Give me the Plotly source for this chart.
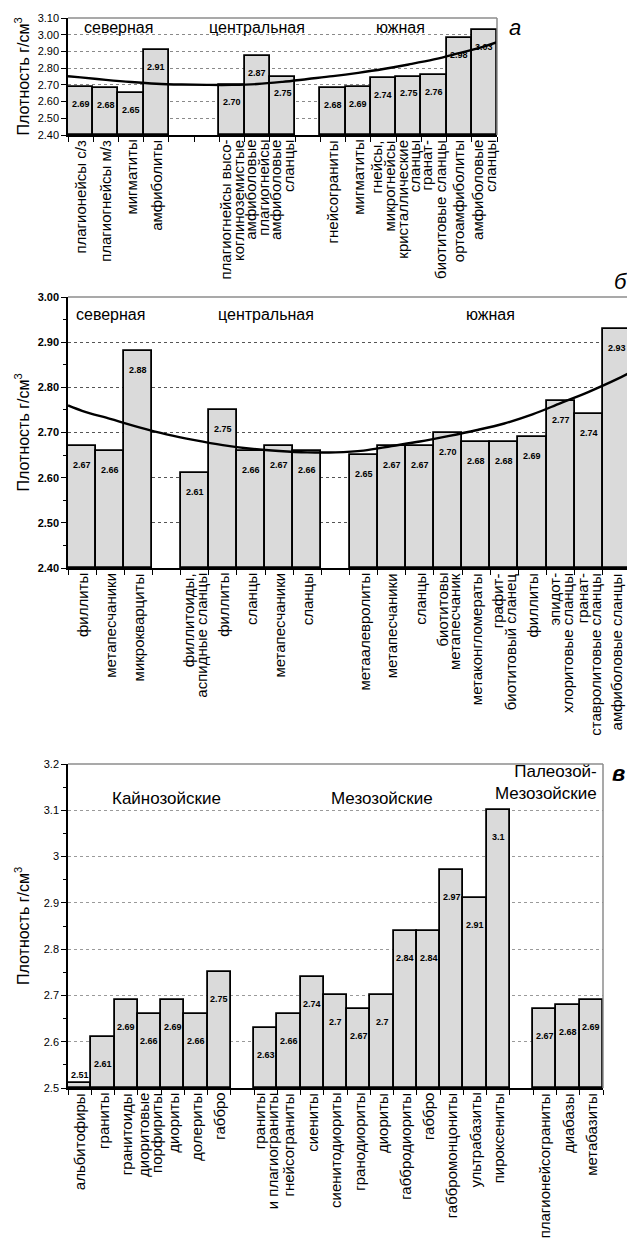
import plotly.graph_objects as go

FONT = "Liberation Sans, Arial, sans-serif"

# ---------------- Panel а ----------------
a_regions = ["северная", "центральная", "южная"]
a_labels = [
    ["плагионейсы с/з", "плагиогнейсы м/з", "мигматиты", "амфиболиты"],
    ["плагиогнейсы высо-<br>коглиноземистые", "амфиболовые<br>плагиогнейсы", "амфиболовые<br>сланцы"],
    ["гнейсограниты", "мигматиты", "гнейсы,<br>микрогнейсы", "кристаллические<br>сланцы",
     "гранат-<br>биотитовые сланцы", "ортоамфиболиты", "амфиболовые<br>сланцы"],
]
a_values = [
    [2.69, 2.68, 2.65, 2.91],
    [2.70, 2.87, 2.75],
    [2.68, 2.69, 2.74, 2.75, 2.76, 2.98, 3.03],
]
a_gaps = [2, 1]
a_trend = [2.752, 2.745, 2.73, 2.717, 2.707, 2.702, 2.70, 2.70, 2.705, 2.718, 2.735,
           2.752, 2.772, 2.795, 2.822, 2.852, 2.89, 2.93, 2.955]
a_yrange = [2.40, 3.10]

# ---------------- Panel б ----------------
b_regions = ["северная", "центральная", "южная"]
b_labels = [
    ["филлиты", "метапесчаники", "микрокварциты"],
    ["филлитоиды,<br>аспидные сланцы", "филлиты", "сланцы", "метапесчаники", "сланцы"],
    ["метаалевролиты", "метапесчаники", "сланцы", "биотитовы<br>метапесчаник", "метаконгломераты",
     "графит-<br>биотитовый сланец", "филлиты", "эпидот-<br>хлоритовые сланцы",
     "гранат-<br>ставролитовые сланцы", "амфиболовые сланцы"],
]
b_values = [
    [2.67, 2.66, 2.88],
    [2.61, 2.75, 2.66, 2.67, 2.66],
    [2.65, 2.67, 2.67, 2.70, 2.68, 2.68, 2.69, 2.77, 2.74, 2.93],
]
b_gaps = [1, 1]
b_trend = [2.76, 2.748, 2.73, 2.712, 2.696, 2.683, 2.672, 2.664, 2.659, 2.656, 2.656,
           2.66, 2.67, 2.68, 2.692, 2.705, 2.72, 2.74, 2.765, 2.79, 2.818, 2.834]
b_yrange = [2.40, 3.00]

# ---------------- Panel в ----------------
c_regions = ["Кайнозойские", "Мезозойские", "Палеозой-<br>Мезозойские"]
c_labels = [
    ["альбитофиры", "граниты", "гранитоиды", "диоритовые<br>порфириты", "диориты", "долериты", "габбро"],
    ["граниты<br>и плагиограниты", "гнейсограниты", "сиениты", "сиенитодиориты", "гранодиориты",
     "диориты", "габбродиориты", "габбро", "габбромонцониты", "ультрабазиты", "пироксениты"],
    ["плагионейсограниты", "диабазы", "метабазиты"],
]
c_values = [
    [2.51, 2.61, 2.69, 2.66, 2.69, 2.66, 2.75],
    [2.63, 2.66, 2.74, 2.70, 2.67, 2.70, 2.84, 2.84, 2.97, 2.91, 3.10],
    [2.67, 2.68, 2.69],
]
c_gaps = [1, 1]
c_yrange = [2.50, 3.20]

# page body adds an 8px margin: lay the figure out 8px up/left of target pixels
OFF = 8
W, H = 635 - OFF, 1247 - OFF
BAR_FILL = "#dadada"
XLAB_SIZE = 15
XLAB_PITCH = 13


def fx(px):
    return (px - OFF) / W


def fy(py):
    return 1 - (py - OFF) / H


panels = [
    dict(sfx="", labels=a_labels, values=a_values, gaps=a_gaps, trend=a_trend, yr=a_yrange,
         regions=a_regions, px=(68, 497), py=(18, 135), fmt=".2f", bold=False,
         grid="#8a8a8a", lab_off=10, reg_y=0.923, reg_shift=[0, 0, -8], minor=False,
         letter="а", letter_xy=(515, 27)),
    dict(sfx="2", labels=b_labels, values=b_values, gaps=b_gaps, trend=b_trend, yr=b_yrange,
         regions=b_regions, px=(68, 631), py=(297, 568), fmt=".2f", bold=True,
         grid="#555555", lab_off=12, reg_y=0.934, reg_shift=[0, 15, 0], minor=True,
         letter="б", letter_xy=(621, 282)),
    dict(sfx="3", labels=c_labels, values=c_values, gaps=c_gaps, trend=None, yr=c_yrange,
         regions=c_regions, px=(68, 603), py=(764, 1088), fmt="", bold=False,
         grid="#9a9a9a", lab_off=20, reg_y=0.893, reg_shift=[17, 0, 0], minor=True,
         letter="в", letter_xy=(618, 773)),
]

fig = go.Figure()
annotations = []
shapes = []
layout = {}

for p in panels:
    sfx = p["sfx"]
    xa, ya = "x" + sfx, "y" + sfx
    xs_all, vals_all, labs_all, centers = [], [], [], []
    pos = 0
    for gi, vals in enumerate(p["values"]):
        xs = list(range(pos, pos + len(vals)))
        xs_all += xs
        vals_all += vals
        labs_all += p["labels"][gi]
        centers.append((xs[0] + xs[-1]) / 2)
        pos += len(vals)
        if gi < len(p["gaps"]):
            pos += p["gaps"][gi]
    N = pos
    y0 = p["yr"][0]

    fig.add_trace(go.Bar(
        x=xs_all, y=[v - y0 for v in vals_all], base=y0, width=1.0, xaxis=xa, yaxis=ya,
        marker=dict(color=BAR_FILL, line=dict(color="black", width=1.8)),
        showlegend=False, hoverinfo="skip",
    ))

    if p["trend"] is not None:
        tx = [-0.5] + list(range(N)) + [N - 0.5]
        fig.add_trace(go.Scatter(
            x=tx, y=p["trend"], mode="lines", line=dict(color="black", width=2.4, shape="spline"),
            xaxis=xa, yaxis=ya, showlegend=False, hoverinfo="skip",
        ))

    # data labels
    for x, v in zip(xs_all, vals_all):
        txt = f"{v:.2f}" if p["fmt"] else f"{v:g}"
        above = (v - y0) < 0.04
        annotations.append(dict(
            x=x, y=v, xref=xa, yref=ya, text=txt, showarrow=False,
            yanchor="bottom" if above else "top",
            yshift=1 if above else -p["lab_off"],
            font=dict(family=FONT, size=9, color="black", weight="bold"),
        ))

    # category labels: each line rotated and ending at the axis, lines stacked left-to-right
    for x, lab in zip(xs_all, labs_all):
        lines = lab.split("<br>")
        n = len(lines)
        for li, line in enumerate(lines):
            annotations.append(dict(
                x=x, y=0, xref=xa, yref=ya + " domain", text=line, showarrow=False,
                textangle=-90, xanchor="center", yanchor="top", yshift=-3,
                xshift=(li - (n - 1) / 2) * XLAB_PITCH,
                font=dict(family=FONT, size=XLAB_SIZE, color="black"),
            ))

    # region labels
    for ri, name in enumerate(p["regions"]):
        if "<br>" in name:
            annotations.append(dict(
                x=N - 0.5, y=0.944, xref=xa, yref=ya + " domain", text=name, showarrow=False,
                xanchor="right", yanchor="middle", xshift=-4, align="right",
                font=dict(family=FONT, size=17, color="black"),
            ))
        else:
            annotations.append(dict(
                x=centers[ri], y=p["reg_y"], xref=xa, yref=ya + " domain", text=name,
                showarrow=False, xanchor="center", yanchor="middle", xshift=p["reg_shift"][ri],
                font=dict(family=FONT, size=17 if sfx == "3" else 16, color="black"),
            ))

    # panel letter
    lx, ly = p["letter_xy"]
    annotations.append(dict(
        x=fx(lx), y=fy(ly), xref="paper", yref="paper", text="<i>" + p["letter"] + "</i>",
        showarrow=False, xanchor="center", yanchor="middle",
        font=dict(family=FONT, size=22, color="black", weight="bold" if sfx == "3" else "normal"),
    ))
    # y title
    annotations.append(dict(
        x=fx(22), y=fy((p["py"][0] + p["py"][1]) / 2), xref="paper", yref="paper",
        text="Плотность г/см<sup>3</sup>", textangle=-90, showarrow=False,
        xanchor="center", yanchor="middle", font=dict(family=FONT, size=16, color="black"),
    ))

    # frame top/right (gray)
    shapes.append(dict(type="line", xref=xa + " domain", yref=ya + " domain", x0=0, x1=1, y0=1, y1=1,
                       line=dict(color="#8c8c8c", width=1.5)))
    shapes.append(dict(type="line", xref=xa + " domain", yref=ya + " domain", x0=1, x1=1, y0=0, y1=1,
                       line=dict(color="#8c8c8c", width=1.5)))

    xdom = [fx(p["px"][0]), fx(p["px"][1])]
    ydom = [fy(p["py"][1]), fy(p["py"][0])]
    layout["xaxis" + sfx] = dict(
        domain=xdom, anchor=ya, range=[-0.5, N - 0.5], showticklabels=False, ticks="",
        showline=True, linecolor="black", linewidth=1.5, showgrid=False, zeroline=False,
        minor=dict(ticks="outside", tick0=-0.5, dtick=1, ticklen=5, tickcolor="black",
                   tickwidth=1, showgrid=False),
        automargin=False, fixedrange=True,
    )
    ydict = dict(
        domain=ydom, anchor=xa, range=p["yr"], dtick=0.1, tick0=y0,
        ticks="outside", ticklen=5, tickcolor="black", tickwidth=1,
        tickfont=dict(family=FONT, size=11, color="black", weight="bold" if p["bold"] else "normal"),
        showline=True, linecolor="black", linewidth=1.5,
        showgrid=True, gridcolor=p["grid"], griddash="dot", gridwidth=1, zeroline=False,
        automargin=False, fixedrange=True,
    )
    if p["fmt"]:
        ydict["tickformat"] = p["fmt"]
    if p["minor"]:
        ydict["minor"] = dict(ticks="outside", dtick=0.05, tick0=y0, ticklen=3,
                              tickcolor="black", showgrid=False)
    layout["yaxis" + sfx] = ydict

fig.update_layout(
    width=W, height=H, margin=dict(l=0, r=0, t=0, b=0),
    paper_bgcolor="white", plot_bgcolor="white",
    annotations=annotations, shapes=shapes, bargap=0,
    font=dict(family=FONT, color="black"),
    **layout,
)

fig.write_html("out.html")
